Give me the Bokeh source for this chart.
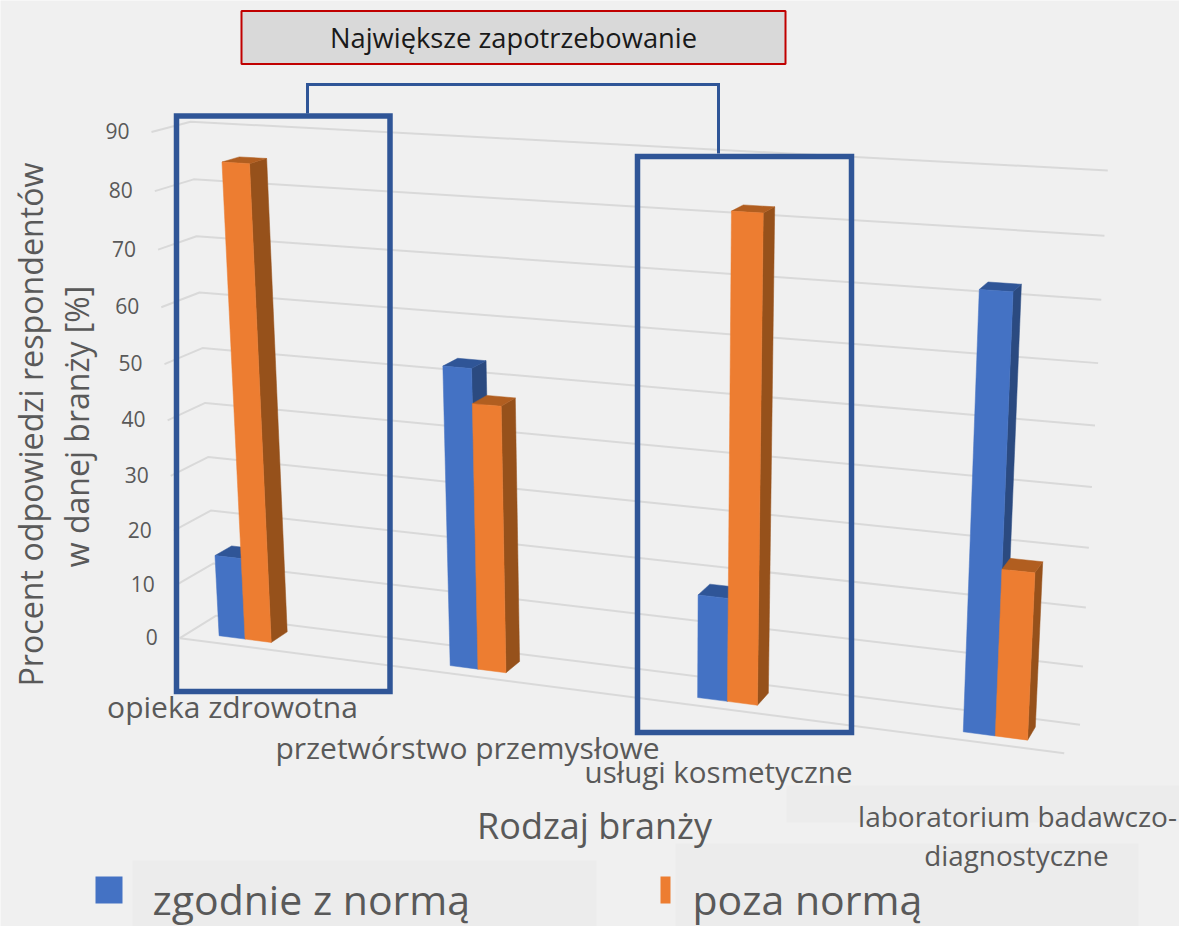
import numpy as np
from bokeh.plotting import figure
from bokeh.core.properties import value
from bokeh.embed import file_html
from bokeh.resources import INLINE

categories = ["opieka zdrowotna", "przetwórstwo przemysłowe", "usługi kosmetyczne", "laboratorium badawczo-\ndiagnostyczne"]
series_names = ["zgodnie z normą", "poza normą"]
zgodnie = [15, 53, 18, 72.3]
poza = [85, 47, 82, 28]
ticks = [0, 10, 20, 30, 40, 50, 60, 70, 80, 90]

BLUE, BLUE_SIDE, BLUE_TOP = "#4472c4", "#2b4a80", "#2f5597"
ORANGE, ORANGE_SIDE, ORANGE_TOP = "#ed7d31", "#96511b", "#b15e20"
BOX = "#2f5597"
TXT = "#595959"
BG = "#f0f0f0"
FONT = value("Open Sans")

# camera calibration of the 3-D scene: (width 0-1, depth 0-1, value/90) -> screen px
world = [(0,1,0),(0,1,1),(1,1,0),(1,1,1),(0,0,0),(0,0,1),(1,0,0),(0,1,5/9),(1,1,5/9)]
screen = [(215,616),(191,121),(1079,724),(1107,170),(180,637),(150,132),(1064,753),(202,347),(1095,425)]
A = []
for (X, Y, Z), (u, v) in zip(world, screen):
    A.append([X, Y, Z, 1, 0, 0, 0, 0, -u*X, -u*Y, -u*Z, -u])
    A.append([0, 0, 0, 0, X, Y, Z, 1, -v*X, -v*Y, -v*Z, -v])
P = np.linalg.svd(np.array(A, float))[2][-1].reshape(3, 4)

def proj(X, Y, val):
    h = P @ np.array([X, Y, val/90.0, 1.0])
    return h[0]/h[2], h[1]/h[2]

W, H = 1179, 926
p = figure(width=W, height=H, x_range=(0, W), y_range=(H, 0), output_backend="svg",
           toolbar_location=None, min_border=0, background_fill_color=BG, border_fill_color=BG,
           outline_line_color=None)
p.axis.visible = False
p.grid.visible = False

def patch(xs, ys, c):
    p.patch(xs, ys, fill_color=c, line_color=c, line_width=0.5)

def txt(x, y, s, size, align="center", color=TXT, angle=0):
    p.text([x], [y], text=[s], text_font=FONT, text_font_size=f"{size}px", text_color=color,
           text_align=align, text_baseline="middle", angle=angle)

# faint patches behind the labels
for x0, x1, y0, y1 in [(786, 1179, 785, 822), (675, 1138, 843, 926), (132, 596, 860, 926)]:
    p.quad(left=x0, right=x1, top=y0, bottom=y1, fill_color="#ececec", line_color=None)

# gridlines
for t in ticks:
    a, b, c = proj(0, 0, t), proj(0, 1, t), proj(1, 1, t)
    p.line([a[0], b[0], c[0]], [a[1], b[1], c[1]], line_color="#d9d9d9", line_width=2)
    txt(a[0]-22, a[1]-1, str(t), 21, "right")
a, b = proj(0, 0, 0), proj(1, 0, 0)
p.line([a[0], b[0]], [a[1], b[1]], line_color="#d9d9d9", line_width=2)

# bars
D0, D1, HW = 0.27, 0.73, 0.033
def bar(X0, X1, v, front, side, top):
    corner = lambda X, Y, z: proj(X, Y, z)
    for pts, c in [
        ([corner(X1, D0, 0), corner(X1, D1, 0), corner(X1, D1, v), corner(X1, D0, v)], side),
        ([corner(X0, D0, v), corner(X1, D0, v), corner(X1, D1, v), corner(X0, D1, v)], top),
        ([corner(X0, D0, 0), corner(X1, D0, 0), corner(X1, D0, v), corner(X0, D0, v)], front),
    ]:
        patch([q[0] for q in pts], [q[1] for q in pts], c)

for i in range(len(categories)):
    Xc = 0.0705 + 0.285 * i
    bar(Xc-HW, Xc, zgodnie[i], BLUE, BLUE_SIDE, BLUE_TOP)
    bar(Xc, Xc+HW, poza[i], ORANGE, ORANGE_SIDE, ORANGE_TOP)

# highlight frames and connector
for x0, x1, y0, y1 in [(176, 389.5, 115.5, 691), (637, 851, 156, 732)]:
    p.quad(left=x0, right=x1, top=y0, bottom=y1, fill_color=None, line_color=BOX, line_width=5.5, line_join="miter")
p.line([307, 307, 718, 718], [113, 84, 84, 153], line_color=BOX, line_width=3, line_join="miter")

# header
p.quad(left=241, right=785, top=10.5, bottom=63.5, fill_color="#d9d9d9", line_color="#c00000", line_width=2)
txt(513, 37, "Największe zapotrzebowanie", 27.3, color="#1a1a1a")

# category labels
txt(232, 706, categories[0], 30)
txt(467, 747, categories[1], 30)
txt(718, 771, categories[2], 29.5)
l1, l2 = categories[3].split("\n")
txt(1017, 815, l1, 28)
txt(1016, 854, l2, 27.8)

# axis titles
txt(594, 825, "Rodzaj branży", 36)
txt(30, 424, "Procent odpowiedzi respondentów", 32.2, angle=np.pi/2)
txt(76, 426, "w danej branży [%]", 32, angle=np.pi/2)

# legend
p.quad(left=95, right=122, top=876, bottom=903, fill_color=BLUE, line_color=None)
p.quad(left=660, right=670, top=876, bottom=903, fill_color=ORANGE, line_color=None)
txt(152, 898, series_names[0], 41, "left")
txt(692, 898, series_names[1], 41, "left")

open("out.html", "w").write(file_html(p, INLINE))
